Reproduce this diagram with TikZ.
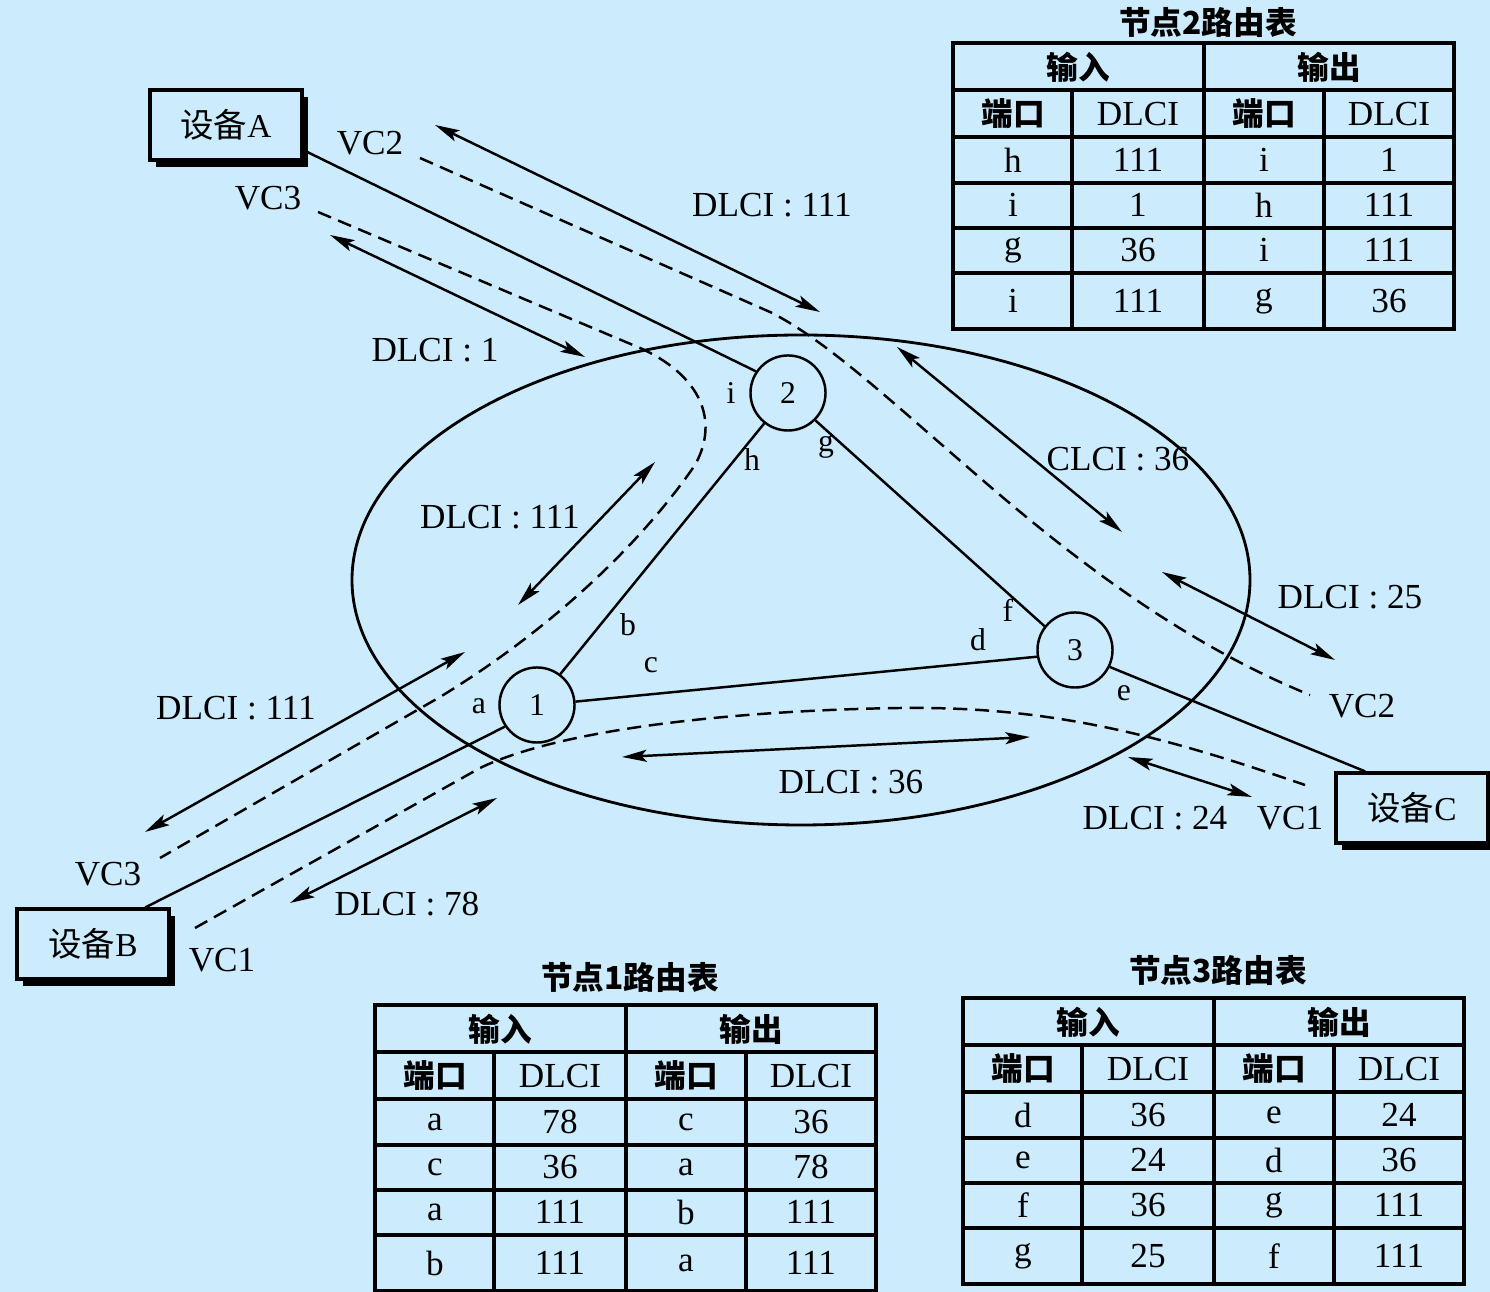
\documentclass[tikz,border=0pt]{standalone}
\usepackage{fontspec}
\setmainfont{Liberation Serif}
\newfontfamily\cjk{Noto Sans CJK SC}
\usepackage{tikz}
\usetikzlibrary{positioning,shapes.geometric,arrows,arrows.meta,calc,shadows}
\definecolor{PaperBlue}{RGB}{204,235,252}
\tikzset{devbox/.style={draw,line width=0.9pt,fill=PaperBlue,minimum width=1.52cm,minimum height=0.7cm,
		drop shadow={shadow xshift=0.6mm,shadow yshift=-0.7mm,fill=black,opacity=1},font=\fontsize{9.5}{11}\selectfont},
	swnode/.style={draw,circle,line width=0.7pt,minimum size=0.75cm,inner sep=0pt,font=\fontsize{9}{10}\selectfont},
	link/.style={line width=0.7pt},
	vcpath/.style={line width=0.7pt,dash pattern=on 4pt off 2.2pt},
	dlciarrow/.style={<->,>={Stealth[length=7pt,width=3.4pt,inset=1.5pt]},line width=0.7pt},
	lbl/.style={font=\fontsize{10}{12}\selectfont,inner sep=1pt},
	portlbl/.style={font=\fontsize{9}{10}\selectfont,inner sep=1pt},
	tline/.style={line width=1pt},
	tcell/.style={font=\fontsize{10}{12}\selectfont,inner sep=0pt},
	thead/.style={font=\cjk\bfseries\fontsize{9}{11}\selectfont,inner sep=0pt},
	ttitle/.style={font=\cjk\bfseries\fontsize{9}{11}\selectfont}}
\newcommand{\routetable}[4]{%
	\begin{scope}[shift={#1}]
	\node[ttitle] (t#2) at (255,#4) {节点#2路由表};
	\draw[tline] (0,0) rectangle (501,286);
	\foreach \y in {47,94,140,185,230} \draw[tline] (0,\y) -- (501,\y);
	\draw[tline] (251,0) -- (251,286);
	\foreach \x in {119,371} \draw[tline] (\x,47) -- (\x,286);
	\node[thead] (t#2-in) at (125,24) {输入};
	\node[thead] (t#2-out) at (376,24) {输出};
	\node[thead] (t#2-p1) at (60,71) {端口};
	\node[tcell] (t#2-d1) at (185,71) {DLCI};
	\node[thead] (t#2-p2) at (311,71) {端口};
	\node[tcell] (t#2-d2) at (436,71) {DLCI};
	\foreach \y/\p/\d/\q/\e [count=\r] in {#3} {
		\node[tcell] (t#2-\r-1) at (60,\y) {\p};
		\node[tcell] (t#2-\r-2) at (185,\y) {\d};
		\node[tcell] (t#2-\r-3) at (311,\y) {\q};
		\node[tcell] (t#2-\r-4) at (436,\y) {\e};
	}
	\end{scope}}
\begin{document}
\begin{tikzpicture}[x=0.01cm,y=-0.01cm]
	\fill[PaperBlue] (0,0) rectangle (1490,1292);
	\useasboundingbox (0,0) rectangle (1490,1292);
	\draw[line width=0.8pt] (801,580) ellipse (449 and 245);
	\node[swnode] (n1) at (537,705) {1};
	\node[swnode] (n2) at (788,393) {2};
	\node[swnode] (n3) at (1075,650) {3};
	\node[devbox] (devA) at (226,125) {{\cjk 设备}A};
	\node[devbox] (devB) at (93,944) {{\cjk 设备}B};
	\node[devbox] (devC) at (1412,808) {{\cjk 设备}C};
	\draw[link] (devA.-18) -- (n2.146);
	\draw[link] (n2.232) -- (n1.53);
	\draw[link] (n2.-45) -- (n3.142);
	\draw[link] (n1.5) -- (n3.190);
	\draw[link] (n1.214) -- (devB.35);
	\draw[link] (n3.-26) -- (devC.142);
	\node[portlbl] (pi) at (731,393) {i};
	\node[portlbl] (ph) at (752,460) {h};
	\node[portlbl] (pg) at (826,447) {g};
	\node[portlbl] (pb) at (628,625) {b};
	\node[portlbl] (pc) at (651,665) {c};
	\node[portlbl] (pa) at (479,706) {a};
	\node[portlbl] (pd) at (978,640) {d};
	\node[portlbl] (pf) at (1008,610) {f};
	\node[portlbl] (pe) at (1124,693) {e};
	\coordinate (vc2s) at (420,158);
	\coordinate (vc2e) at (1310,695);
	\coordinate (vc3s) at (318,212);
	\coordinate (vc3e) at (160,858);
	\coordinate (vc1s) at (195,928);
	\coordinate (vc1e) at (1305,785);
	\draw[vcpath] (vc2s) -- (770,312) .. controls (830,342) and (900,410) .. (1000,495) .. controls (1100,580) and (1200,650) .. (vc2e);
	\draw[vcpath] (vc3s) -- (640,348) .. controls (700,375) and (720,420) .. (695,465) .. controls (640,545) and (550,630) .. (440,697) -- (vc3e);
	\draw[vcpath] (vc1s) -- (480,768) .. controls (570,725) and (760,710) .. (900,708) .. controls (1050,706) and (1160,735) .. (vc1e);
	\node[lbl] (vc2a) at (370,143) {VC2};
	\node[lbl] (vc3a) at (268,198) {VC3};
	\node[lbl] (vc2b) at (1362,706) {VC2};
	\node[lbl] (vc1b) at (1290,818) {VC1};
	\node[lbl] (vc3b) at (108,874) {VC3};
	\node[lbl] (vc1a) at (222,960) {VC1};
	\coordinate (ar1a) at (435,125);  \coordinate (ar1b) at (820,312);
	\coordinate (ar2a) at (330,235);  \coordinate (ar2b) at (585,357);
	\coordinate (ar3a) at (897,347);  \coordinate (ar3b) at (1122,532);
	\coordinate (ar4a) at (1162,572); \coordinate (ar4b) at (1335,660);
	\coordinate (ar5a) at (655,462);  \coordinate (ar5b) at (518,605);
	\coordinate (ar6a) at (465,652);  \coordinate (ar6b) at (145,832);
	\coordinate (ar7a) at (497,798);  \coordinate (ar7b) at (290,903);
	\coordinate (ar8a) at (622,757);  \coordinate (ar8b) at (1030,737);
	\coordinate (ar9a) at (1128,757); \coordinate (ar9b) at (1252,797);
	\foreach \i in {1,...,9} \draw[dlciarrow] (ar\i a) -- (ar\i b);
	\node[lbl] (l111a) at (772,205) {DLCI : 111};
	\node[lbl] (l1) at (435,350) {DLCI : 1};
	\node[lbl] (l36a) at (1118,459) {CLCI : 36};
	\node[lbl] (l25) at (1350,597) {DLCI : 25};
	\node[lbl] (l111b) at (500,517) {DLCI : 111};
	\node[lbl] (l111c) at (236,708) {DLCI : 111};
	\node[lbl] (l78) at (407,904) {DLCI : 78};
	\node[lbl] (l36b) at (851,782) {DLCI : 36};
	\node[lbl] (l24) at (1155,818) {DLCI : 24};
	\routetable{(953,43)}{2}{117/h/111/i/1, 162/i/1/h/111, 207/g/36/i/111, 258/i/111/g/36}{-21}
	\routetable{(375,1005)}{1}{117/a/78/c/36, 162/c/36/a/78, 207/a/111/b/111, 258/b/111/a/111}{-28}
	\routetable{(963,998)}{3}{117/d/36/e/24, 162/e/24/d/36, 207/f/36/g/111, 258/g/25/f/111}{-28}
\end{tikzpicture}
\end{document}
